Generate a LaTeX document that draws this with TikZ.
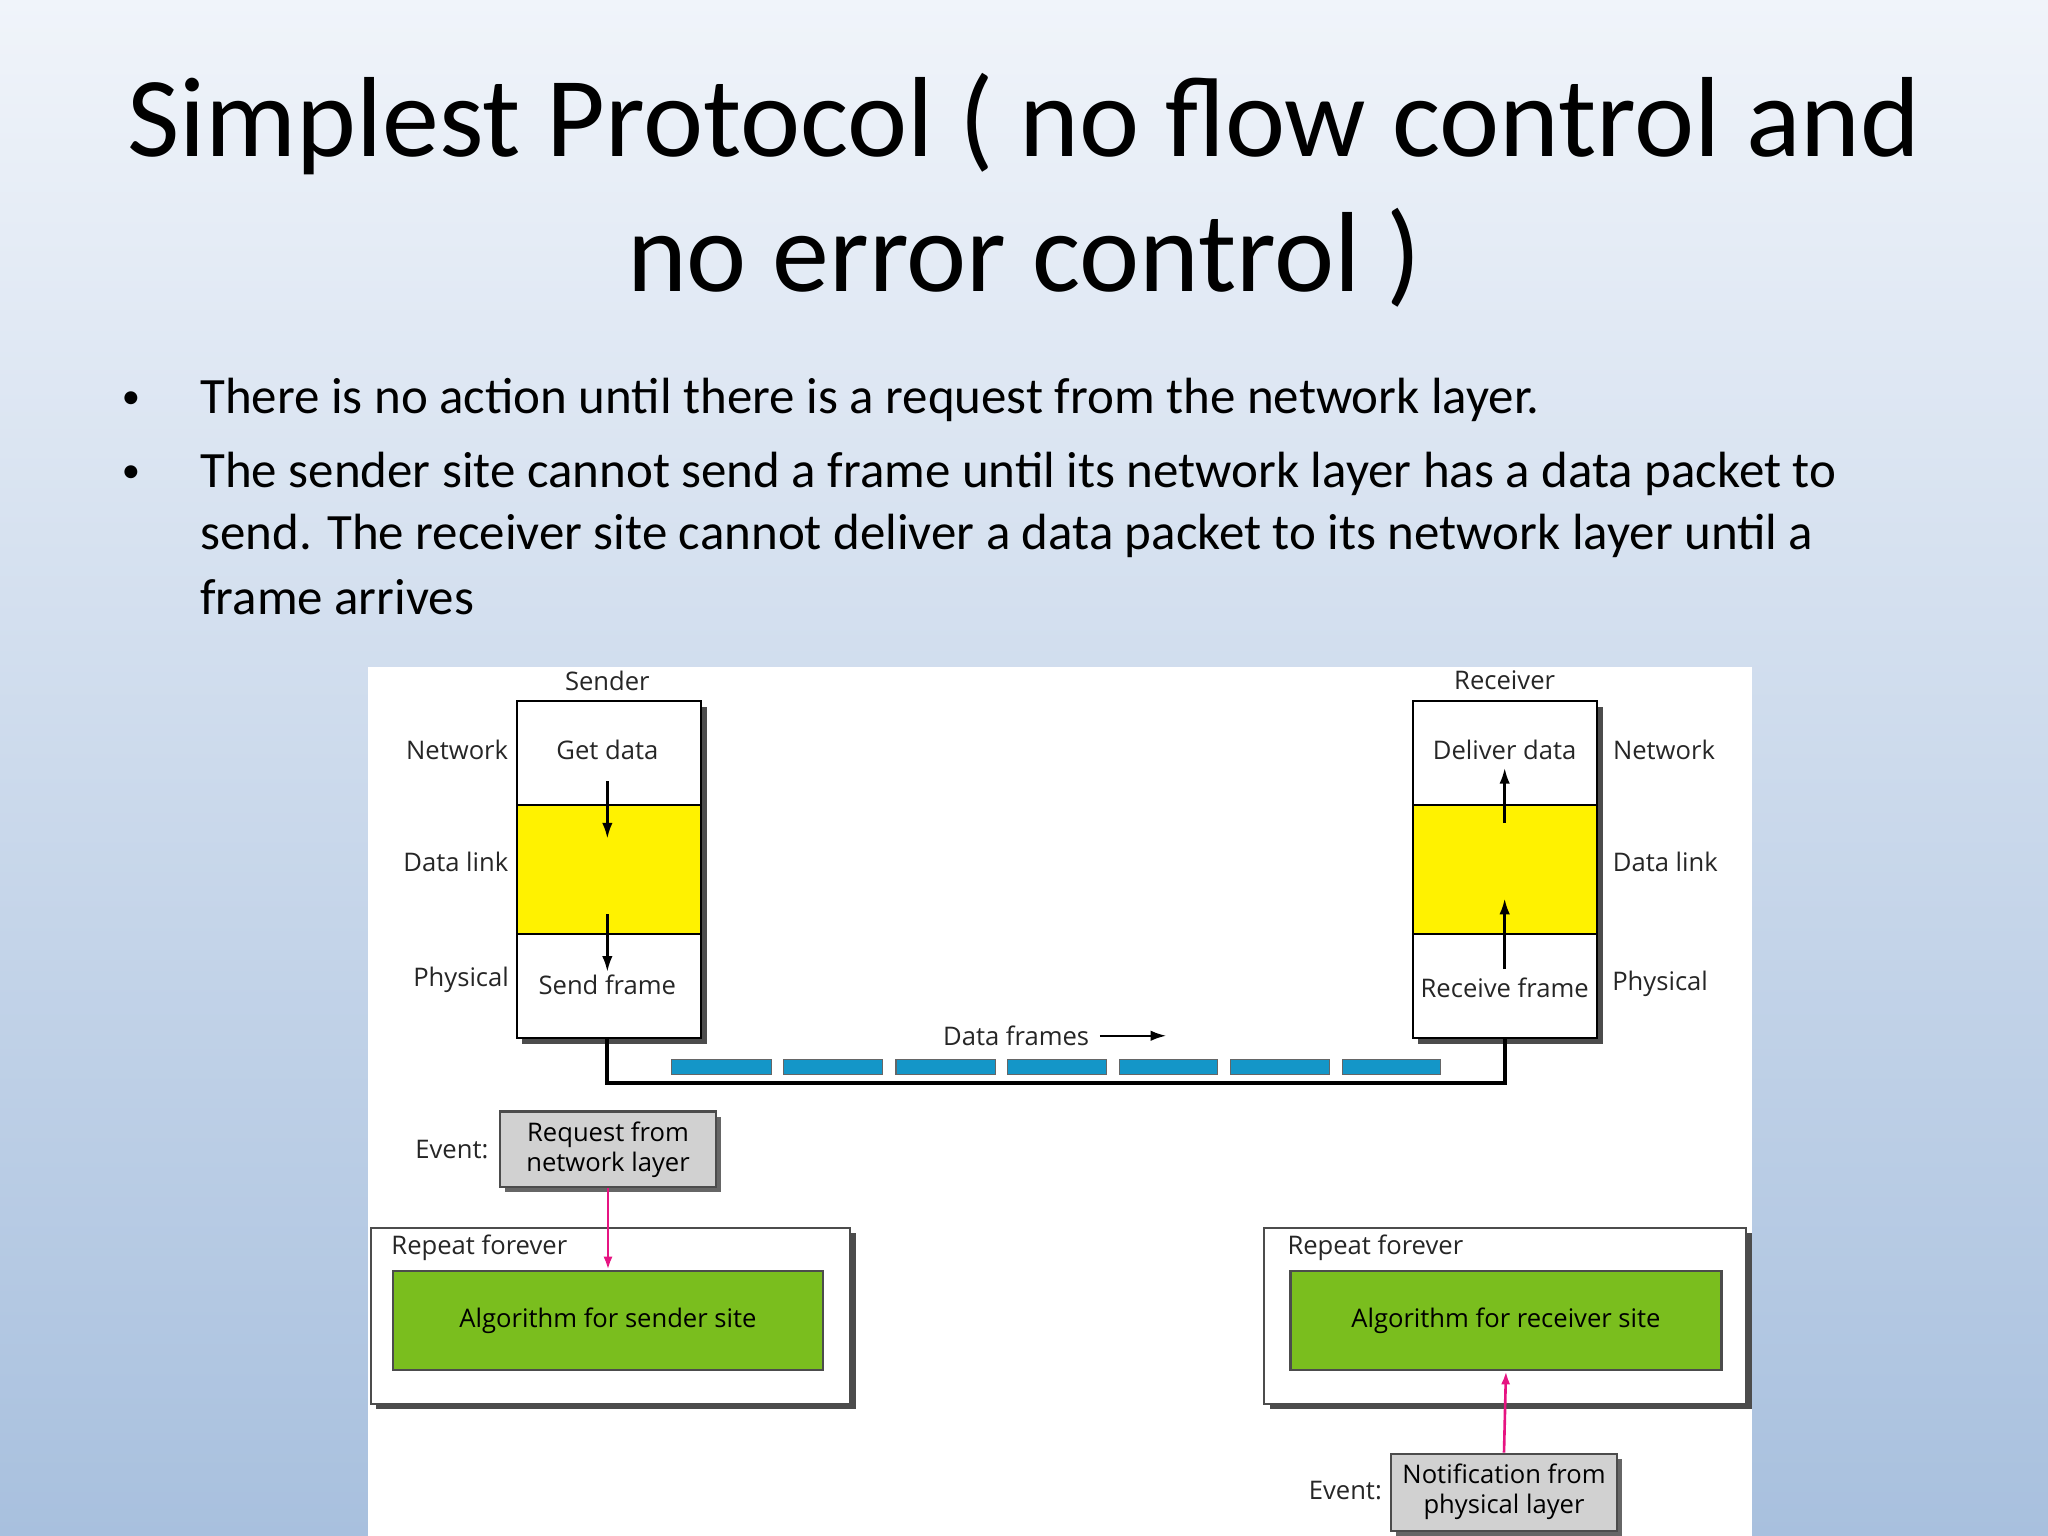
\documentclass[tikz,border=0pt]{standalone}
\usepackage{fontspec}
\setmainfont{Carlito}
\newfontfamily\dgm{Open Sans}
\begin{document}
\begin{tikzpicture}[x=0.5pt,y=-0.5pt,
  lbl/.style={font=\dgm\fontsize{9.8}{11}\selectfont,text=black!85,inner sep=0pt},
  cell/.style={draw=black,line width=0.8pt},
  shad/.style={fill=black!70},
  arr/.style={-{Latex[length=6pt,width=4pt]},line width=0.9pt},
  marr/.style={-{Latex[length=5pt,width=3.5pt]},line width=1pt,draw={rgb,255:red,230;green,20;blue,130}},
  gbox/.style={draw=black!70,fill=black!18,line width=0.8pt,align=center,font=\dgm\fontsize{9.8}{11.5}\selectfont,inner sep=1pt},
  frm/.style={fill={rgb,255:red,20;green,150;blue,200},draw=black!60,line width=0.4pt},
  green/.style={fill={rgb,255:red,122;green,190;blue,30},draw=black!70,line width=0.9pt}]
\usetikzlibrary{arrows.meta}
\useasboundingbox (0,0) rectangle (1568,1176);
\shade[top color={rgb,255:red,240;green,244;blue,250},bottom color={rgb,255:red,168;green,192;blue,222}] (0,0) rectangle (1568,1176);
\node (t1) at (784,95) {\fontsize{43.6}{48}\selectfont Simplest Protocol ( no flow control and};
\node (t2) at (784,197) {\fontsize{43.6}{48}\selectfont no error control )};
\begin{scope}[every node/.style={anchor=west,inner sep=0pt,font=\fontsize{19.5}{22}\selectfont}]
\node (b1) at (93,306) {\fontsize{14}{16}\selectfont\textbullet};
\node (l1) at (153,306) {There is no action until there is a request from the network layer.};
\node (b2) at (93,363) {\fontsize{14}{16}\selectfont\textbullet};
\node (l2) at (153,363) {The sender site cannot send a frame until its network layer has a data packet to};
\node (l3) at (153,410) {send. The receiver site cannot deliver a data packet to its network layer until a};
\node (l4) at (153,457) {frame arrives};
\end{scope}
\fill[white] (282,511) rectangle (1341,1176);
% stacks
\foreach \x/\n in {396/s,1082/r}{
 \fill[shad] (\x+4,541) rectangle (\x+145,799);
 \fill[white,cell] (\x,537) rectangle (\x+141,616);
 \fill[yellow,cell] (\x,616) rectangle (\x+141,715);
 \fill[white,cell] (\x,715) rectangle (\x+141,795);
}
\node[lbl] (snd) at (465,521) {Sender};
\node[lbl] (rcv) at (1152,521) {Receiver};
\node[lbl] (n1) at (350,574) {Network};
\node[lbl] (d1) at (349,660) {Data link};
\node[lbl] (p1) at (353,750) {Physical};
\node[lbl] (n2) at (1274,574) {Network};
\node[lbl] (d2) at (1275,660) {Data link};
\node[lbl] (p2) at (1271,753) {Physical};
\node[lbl] (gd) at (465,574) {Get data};
\node[lbl] (sf) at (465,754) {Send frame};
\node[lbl] (dd) at (1152,574) {Deliver data};
\node[lbl] (rf) at (1152,756) {Receive frame};
\coordinate (a1) at (465,598); \coordinate (a2) at (465,642);
\coordinate (a3) at (465,700); \coordinate (a4) at (465,744);
\coordinate (a5) at (1152,630); \coordinate (a6) at (1152,588);
\coordinate (a7) at (1152,742); \coordinate (a8) at (1152,688);
\draw[arr] (a1)--(a2); \draw[arr] (a3)--(a4);
\draw[arr] (a5)--(a6); \draw[arr] (a7)--(a8);
\coordinate (w1) at (465,795); \coordinate (w2) at (1152,795);
\draw[line width=1.6pt] (w1)--(465,829)--(1152,829)--(w2);
\foreach \a/\b in {514/591,600/676,686/762,771/847,857/932,942/1018,1028/1103}
 \draw[frm] (\a,811) rectangle (\b,823);
\node[lbl] (df) at (778,793) {Data frames};
\coordinate (f1) at (842,793); \coordinate (f2) at (893,793);
\draw[arr] (f1)--(f2);
% sender algorithm
\node[lbl] (e1) at (346,880) {Event:};
\fill[black!60] (387,855) rectangle (552,913);
\node[gbox,minimum width=82.5pt,minimum height=29pt] (req) at (465.5,880) {Request from\\network layer};
\fill[shad] (288,944) rectangle (655,1079);
\draw[fill=white,draw=black!70,line width=0.8pt] (284,940) rectangle (651,1075);
\node[lbl] (rp1) at (367,955) {Repeat forever};
\node[green,minimum width=164.5pt,minimum height=38pt,font=\dgm\fontsize{9.8}{12}\selectfont] (alg1) at (465.5,1011) {Algorithm for sender site};
\draw[marr] (req.south) -- (alg1.north);
% receiver algorithm
\fill[shad] (972,944) rectangle (1341,1079);
\draw[fill=white,draw=black!70,line width=0.8pt] (968,940) rectangle (1337,1075);
\node[lbl] (rp2) at (1053,955) {Repeat forever};
\node[green,minimum width=165pt,minimum height=38pt,font=\dgm\fontsize{9.8}{12}\selectfont] (alg2) at (1153,1011) {Algorithm for receiver site};
\node[lbl] (e2) at (1030,1141) {Event:};
\fill[black!60] (1069,1117) rectangle (1242,1176);
\node[gbox,minimum width=86.5pt,minimum height=29.5pt] (nt) at (1151.5,1142.5) {Notification from\\physical layer};
\draw[marr] (nt.north) -- (alg2.south);
\end{tikzpicture}
\end{document}
